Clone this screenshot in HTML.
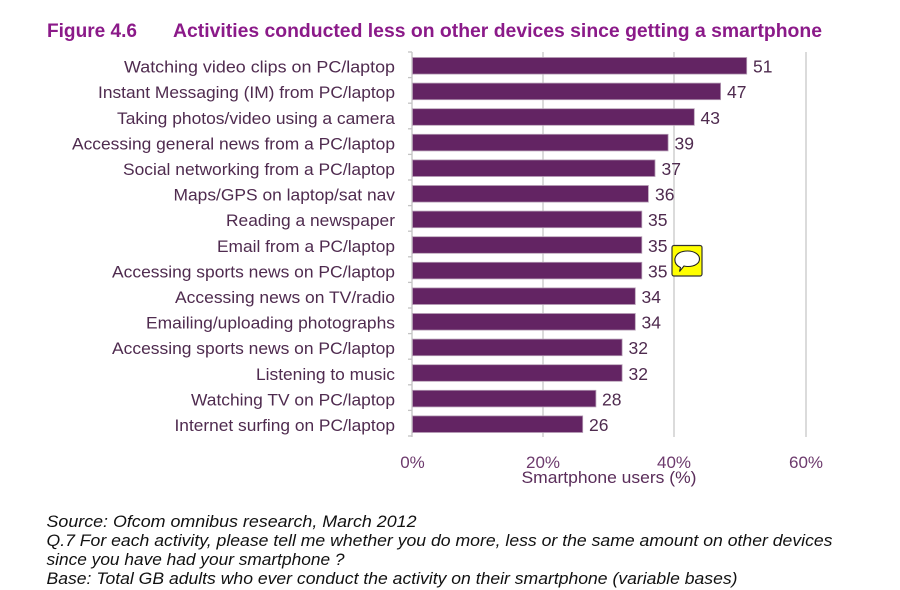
<!DOCTYPE html>
<html><head><meta charset="utf-8"><style>
html,body{margin:0;padding:0;background:#fff;}
svg{display:block;}
text{font-family:"Liberation Sans",Arial,sans-serif;}
</style></head><body>
<svg width="900" height="590" viewBox="0 0 900 590" xmlns="http://www.w3.org/2000/svg">
<rect width="900" height="590" fill="#fff"/>
<!-- title -->
<text x="47" y="37" font-size="19" font-weight="bold" fill="#8b1a89" textLength="90" lengthAdjust="spacingAndGlyphs">Figure 4.6</text>
<text x="173" y="37" font-size="19" font-weight="bold" fill="#8b1a89" textLength="649" lengthAdjust="spacingAndGlyphs">Activities conducted less on other devices since getting a smartphone</text>
<!-- gridlines -->
<g stroke="#cfcfcf" stroke-width="1.5">
<line x1="543" y1="52" x2="543" y2="437"/>
<line x1="674" y1="52" x2="674" y2="437"/>
<line x1="806" y1="52" x2="806" y2="437"/>
</g>
<!-- axis -->
<g stroke="#c4c4c4" stroke-width="1.3">
<line x1="412" y1="52" x2="412" y2="437"/>
<line x1="408" y1="52" x2="412" y2="52"/>
<line x1="408" y1="77.6" x2="412" y2="77.6"/>
<line x1="408" y1="103.2" x2="412" y2="103.2"/>
<line x1="408" y1="128.8" x2="412" y2="128.8"/>
<line x1="408" y1="154.4" x2="412" y2="154.4"/>
<line x1="408" y1="180" x2="412" y2="180"/>
<line x1="408" y1="205.6" x2="412" y2="205.6"/>
<line x1="408" y1="231.2" x2="412" y2="231.2"/>
<line x1="408" y1="256.8" x2="412" y2="256.8"/>
<line x1="408" y1="282.4" x2="412" y2="282.4"/>
<line x1="408" y1="308" x2="412" y2="308"/>
<line x1="408" y1="333.6" x2="412" y2="333.6"/>
<line x1="408" y1="359.2" x2="412" y2="359.2"/>
<line x1="408" y1="384.8" x2="412" y2="384.8"/>
<line x1="408" y1="410.4" x2="412" y2="410.4"/>
<line x1="408" y1="436" x2="412" y2="436"/>
</g>
<!-- bars -->
<g fill="#632463" stroke="#b59cb4" stroke-width="0.8">
<rect x="412.5" y="57.5" width="334.2" height="16.6"/>
<rect x="412.5" y="83.1" width="308.1" height="16.6"/>
<rect x="412.5" y="108.7" width="281.8" height="16.6"/>
<rect x="412.5" y="134.3" width="255.6" height="16.6"/>
<rect x="412.5" y="159.9" width="242.5" height="16.6"/>
<rect x="412.5" y="185.5" width="235.9" height="16.6"/>
<rect x="412.5" y="211.1" width="229.3" height="16.6"/>
<rect x="412.5" y="236.7" width="229.3" height="16.6"/>
<rect x="412.5" y="262.3" width="229.3" height="16.6"/>
<rect x="412.5" y="287.9" width="222.8" height="16.6"/>
<rect x="412.5" y="313.5" width="222.8" height="16.6"/>
<rect x="412.5" y="339.1" width="209.6" height="16.6"/>
<rect x="412.5" y="364.7" width="209.6" height="16.6"/>
<rect x="412.5" y="390.3" width="183.4" height="16.6"/>
<rect x="412.5" y="415.9" width="170.2" height="16.6"/>
</g>
<!-- category labels -->
<g font-size="17" fill="#4f2b4f" lengthAdjust="spacingAndGlyphs">
<text x="124" y="72.6" textLength="271" lengthAdjust="spacingAndGlyphs">Watching video clips on PC/laptop</text>
<text x="98" y="98.2" textLength="297" lengthAdjust="spacingAndGlyphs">Instant Messaging (IM) from PC/laptop</text>
<text x="117" y="123.8" textLength="278" lengthAdjust="spacingAndGlyphs">Taking photos/video using a camera</text>
<text x="72" y="149.4" textLength="323" lengthAdjust="spacingAndGlyphs">Accessing general news from a PC/laptop</text>
<text x="123" y="175" textLength="272" lengthAdjust="spacingAndGlyphs">Social networking from a PC/laptop</text>
<text x="173.5" y="200.6" textLength="221.5" lengthAdjust="spacingAndGlyphs">Maps/GPS on laptop/sat nav</text>
<text x="226" y="226.2" textLength="169" lengthAdjust="spacingAndGlyphs">Reading a newspaper</text>
<text x="217" y="251.8" textLength="178" lengthAdjust="spacingAndGlyphs">Email from a PC/laptop</text>
<text x="112" y="277.4" textLength="283" lengthAdjust="spacingAndGlyphs">Accessing sports news on PC/laptop</text>
<text x="175" y="303" textLength="220" lengthAdjust="spacingAndGlyphs">Accessing news on TV/radio</text>
<text x="146" y="328.6" textLength="249" lengthAdjust="spacingAndGlyphs">Emailing/uploading photographs</text>
<text x="112" y="354.2" textLength="283" lengthAdjust="spacingAndGlyphs">Accessing sports news on PC/laptop</text>
<text x="256" y="379.8" textLength="139" lengthAdjust="spacingAndGlyphs">Listening to music</text>
<text x="191" y="405.4" textLength="204" lengthAdjust="spacingAndGlyphs">Watching TV on PC/laptop</text>
<text x="174.5" y="431" textLength="220.5" lengthAdjust="spacingAndGlyphs">Internet surfing on PC/laptop</text>
</g>
<!-- value labels -->
<g font-size="17.5" fill="#4f2b4f">
<text x="753" y="72.6">51</text>
<text x="727" y="98.2">47</text>
<text x="700.5" y="123.8">43</text>
<text x="674.5" y="149.4">39</text>
<text x="661.5" y="175">37</text>
<text x="655" y="200.6">36</text>
<text x="648" y="226.2">35</text>
<text x="648" y="251.8">35</text>
<text x="648" y="277.4">35</text>
<text x="641.5" y="303">34</text>
<text x="641.5" y="328.6">34</text>
<text x="628.5" y="354.2">32</text>
<text x="628.5" y="379.8">32</text>
<text x="602" y="405.4">28</text>
<text x="589" y="431">26</text>
</g>
<!-- comment icon -->
<rect x="672" y="245.5" width="30" height="30.5" rx="2" fill="#ffff00" stroke="#333" stroke-width="1.2"/>
<path d="M680.5,267.5 C676,265.5 674.5,262 675,258.5 C676,253.5 681,251 687.5,251 C694.5,251 699.5,254.5 699.5,259 C699.5,263.5 694.5,266.5 688,266.5 C686.5,266.5 685,266.3 684,266 L679.5,271.5 Z" fill="#fff" stroke="#222" stroke-width="1.1"/>
<!-- x tick labels -->
<g font-size="17" fill="#6d3a6d" text-anchor="middle">
<text x="412.5" y="468">0%</text>
<text x="543" y="468">20%</text>
<text x="674" y="468">40%</text>
<text x="806" y="468">60%</text>
</g>
<text x="609" y="483" font-size="17" fill="#5a2d5a" text-anchor="middle" textLength="175" lengthAdjust="spacingAndGlyphs">Smartphone users (%)</text>
<!-- footer -->
<g font-size="17" font-style="italic" fill="#111">
<text x="46.5" y="527" textLength="370" lengthAdjust="spacingAndGlyphs">Source:  Ofcom omnibus research, March 2012</text>
<text x="46.5" y="546" textLength="786" lengthAdjust="spacingAndGlyphs">Q.7 For each activity, please tell me whether you do more, less or the same amount on other devices</text>
<text x="46.5" y="565" textLength="298" lengthAdjust="spacingAndGlyphs">since you have had your smartphone ?</text>
<text x="46.5" y="584" textLength="691" lengthAdjust="spacingAndGlyphs">Base: Total GB adults who ever conduct the activity on their smartphone (variable bases)</text>
</g>
</svg>
</body></html>
